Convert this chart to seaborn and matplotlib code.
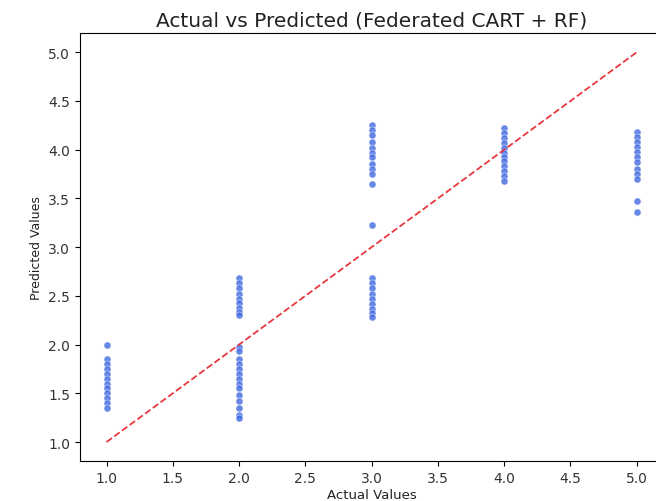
import numpy as np
import pandas as pd
import matplotlib
matplotlib.use("Agg")
import matplotlib.pyplot as plt
import seaborn as sns

# predicted values, grouped by actual class
pred_1 = [2.00, 1.85, 1.80, 1.75, 1.70, 1.65, 1.60, 1.55, 1.50, 1.45, 1.40, 1.35]
pred_2 = [2.68, 2.63, 2.58, 2.52, 2.47, 2.43, 2.38, 2.33, 2.30,
          1.98, 1.93, 1.85, 1.80, 1.75, 1.70, 1.65, 1.60, 1.55, 1.48, 1.42, 1.35, 1.28, 1.25]
pred_3 = [4.25, 4.20, 4.15, 4.08, 4.02, 3.97, 3.92, 3.85, 3.80, 3.75, 3.65,
          3.23,
          2.68, 2.63, 2.58, 2.52, 2.47, 2.42, 2.37, 2.32, 2.28]
pred_4 = [4.22, 4.17, 4.12, 4.07, 4.02, 3.97, 3.93, 3.88, 3.83, 3.78, 3.73, 3.68]
pred_5 = [4.18, 4.13, 4.08, 4.03, 3.98, 3.92, 3.87, 3.80, 3.75, 3.70, 3.47, 3.36]

groups = {1.0: pred_1, 2.0: pred_2, 3.0: pred_3, 4.0: pred_4, 5.0: pred_5}
actual = []
predicted = []
for k, vals in groups.items():
    actual += [k] * len(vals)
    predicted += vals

df = pd.DataFrame({"actual": actual, "predicted": predicted})

fig = plt.figure(figsize=(6.56, 5.02), dpi=100)
ax = fig.add_axes([0.122, 0.0787, 0.889, 0.854])

sns.scatterplot(x="actual", y="predicted", data=df, color="royalblue",
                alpha=0.8, s=26, edgecolor="white", linewidth=0.4, ax=ax)

lo, hi = df["actual"].min(), df["actual"].max()
ax.plot([lo, hi], [lo, hi], "--", color="#e8383d", lw=1.3)

ax.set_ylim(0.8, 5.2)
ax.set_title("Actual vs Predicted (Federated CART + RF)", fontsize=14.5, color="#222222", pad=5)
ax.set_xlabel("Actual Values", fontsize=9.5, labelpad=2, color="#222222")
ax.set_ylabel("Predicted Values", fontsize=9, labelpad=4, color="#222222")
ax.tick_params(labelsize=10, labelcolor="#333333")

fig.savefig("out.png", dpi=100)
